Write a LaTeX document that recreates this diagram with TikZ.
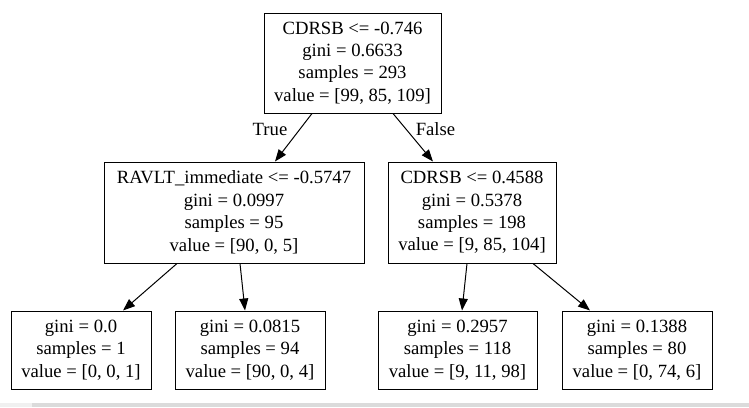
\documentclass[tikz,border=0pt]{standalone}
\usepackage{fontspec}
\setmainfont{Liberation Serif}
\usetikzlibrary{arrows.meta}
\begin{document}
\begin{tikzpicture}[x=1pt,y=-1pt,
  treebox/.style={draw=black,line width=1pt,inner sep=0pt,align=center,
    font=\fontsize{18.67}{22.4}\selectfont},
  edgelab/.style={font=\fontsize{18.67}{22.4}\selectfont,inner sep=0pt},
  treearrow/.style={line width=1pt,-{Triangle[length=12pt,width=9pt]}}]
\useasboundingbox (0,0) rectangle (749,407);
\fill[white] (0,0) rectangle (749,407);
\fill[black!6] (0,403) rectangle (749,407);
\fill[black!14] (32,403) rectangle (749,407);
\node[treebox,minimum width=177pt,minimum height=100pt] (root) at (352.5,63)
  {CDRSB <= -0.746\\gini = 0.6633\\samples = 293\\value = [99, 85, 109]};
\node[treebox,minimum width=260pt,minimum height=101pt] (mL) at (234,212.5)
  {RAVLT\_immediate <= -0.5747\\gini = 0.0997\\samples = 95\\value = [90, 0, 5]};
\node[treebox,minimum width=168pt,minimum height=101pt] (mR) at (472,212.5)
  {CDRSB <= 0.4588\\gini = 0.5378\\samples = 198\\value = [9, 85, 104]};
\node[treebox,minimum width=140pt,minimum height=78pt] (l1) at (81,350)
  {gini = 0.0\\samples = 1\\value = [0, 0, 1]};
\node[treebox,minimum width=150pt,minimum height=78pt] (l2) at (250,350)
  {gini = 0.0815\\samples = 94\\value = [90, 0, 4]};
\node[treebox,minimum width=159pt,minimum height=78pt] (l3) at (457.5,350)
  {gini = 0.2957\\samples = 118\\value = [9, 11, 98]};
\node[treebox,minimum width=150pt,minimum height=78pt] (l4) at (637,350)
  {gini = 0.1388\\samples = 80\\value = [0, 74, 6]};
\draw[treearrow] ([xshift=-40.5pt]root.south) -- ([xshift=41pt]mL.north);
\draw[treearrow] ([xshift=40.5pt]root.south) -- ([xshift=-39pt]mR.north);
\draw[treearrow] ([xshift=-57pt]mL.south) -- ([xshift=42pt]l1.north);
\draw[treearrow] ([xshift=6pt]mL.south) -- ([xshift=-5pt]l2.north);
\draw[treearrow] ([xshift=-5pt]mR.south) -- ([xshift=4.5pt]l3.north);
\draw[treearrow] ([xshift=61pt]mR.south) -- ([xshift=-47pt]l4.north);
\node[edgelab] (tlab) at (270,129) {True};
\node[edgelab] (flab) at (435.5,129) {False};
\end{tikzpicture}
\end{document}
